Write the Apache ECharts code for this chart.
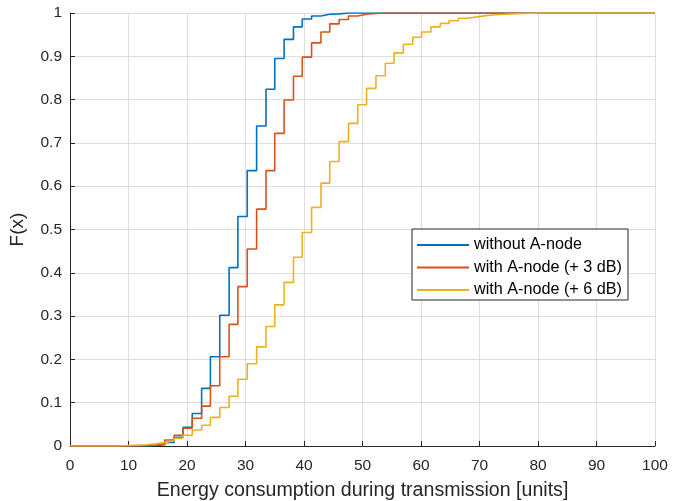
<!DOCTYPE html>
<html>
<head>
<meta charset="utf-8">
<script src="https://cdn.jsdelivr.net/npm/echarts@6/dist/echarts.min.js"></script>
<style>
html, body { margin: 0; padding: 0; background: #ffffff; }
#chart { width: 681px; height: 501px; }
</style>
</head>
<body>
<div id="chart"></div>
<script>
// Common step positions (energy values where the empirical CDFs jump)
const stepX = [8.4, 9.9, 11.5, 13.1, 14.6, 16.2, 17.8, 19.3, 20.9, 22.5, 24.0, 25.6, 27.2, 28.7, 30.3, 31.9,
  33.5, 35.0, 36.6, 38.2, 39.7, 41.3, 42.9, 44.4, 46.0, 47.6, 49.2, 50.7, 52.3, 53.9, 55.4, 57.0,
  58.6, 60.1, 61.7, 63.3, 64.8, 66.4, 68.0, 69.6, 71.1, 72.7, 74.3, 75.8, 77.4, 79.0, 80.5];

// CDF value after each jump
const withoutANode = [0, 0, 0, 0.001, 0.003, 0.008, 0.02, 0.043, 0.075, 0.133, 0.206, 0.302, 0.412, 0.530, 0.636, 0.739,
  0.824, 0.895, 0.939, 0.968, 0.986, 0.993, 0.997, 0.998, 1, 1, 1, 1, 1, 1, 1, 1,
  1, 1, 1, 1, 1, 1, 1, 1, 1, 1, 1, 1, 1, 1, 1];
const withANode3dB = [0, 0, 0.001, 0.002, 0.005, 0.014, 0.025, 0.041, 0.064, 0.092, 0.139, 0.206, 0.281, 0.368, 0.455, 0.547,
  0.636, 0.722, 0.799, 0.854, 0.898, 0.931, 0.956, 0.975, 0.985, 0.993, 0.997, 0.999, 1, 1, 1, 1,
  1, 1, 1, 1, 1, 1, 1, 1, 1, 1, 1, 1, 1, 1, 1];
const withANode6dB = [0.001, 0.002, 0.003, 0.005, 0.008, 0.012, 0.018, 0.025, 0.037, 0.048, 0.066, 0.089, 0.115, 0.154, 0.190, 0.229,
  0.276, 0.326, 0.378, 0.436, 0.493, 0.551, 0.607, 0.657, 0.703, 0.745, 0.788, 0.826, 0.855, 0.884, 0.908, 0.928,
  0.944, 0.956, 0.968, 0.976, 0.982, 0.988, 0.991, 0.994, 0.996, 0.997, 0.998, 0.999, 0.9995, 1, 1];

const seriesNames = ['without A-node', 'with A-node (+ 3 dB)', 'with A-node (+ 6 dB)'];
const seriesColors = ['#0072BD', '#D95319', '#EDB120'];
const xRange = [0, 100];
const yRange = [0, 1];

function cdfData(values) {
  const pts = [[xRange[0], 0]];
  stepX.forEach((x, i) => pts.push([x, values[i]]));
  pts.push([xRange[1], values[values.length - 1]]);
  return pts;
}

const FONT = "'Liberation Sans', Arial, Helvetica, sans-serif";
const AXIS_COLOR = '#262626';
const GRID_COLOR = '#dedede';

const chart = echarts.init(document.getElementById('chart'), null, { renderer: 'canvas' });
const allValues = [withoutANode, withANode3dB, withANode6dB];

chart.setOption({
  animation: false,
  backgroundColor: '#ffffff',
  textStyle: { fontFamily: FONT },
  grid: { left: 70, right: 26, top: 13, bottom: 55, containLabel: false, outerBoundsMode: 'none' },
  legend: {
    orient: 'vertical',
    left: 412,
    top: 229,
    padding: [8, 6, 2, 5],
    icon: 'rect',
    itemWidth: 52,
    itemHeight: 2,
    itemGap: 6.5,
    backgroundColor: '#ffffff',
    borderColor: AXIS_COLOR,
    borderWidth: 1,
    borderRadius: 0,
    selectedMode: false,
    textStyle: { fontFamily: FONT, fontSize: 16.2, color: '#000000' },
    data: seriesNames
  },
  xAxis: {
    type: 'value',
    min: xRange[0],
    max: xRange[1],
    interval: 10,
    name: 'Energy consumption during transmission [units]',
    nameLocation: 'middle',
    nameGap: 34.5,
    nameTextStyle: { fontFamily: FONT, fontSize: 19.6, color: AXIS_COLOR },
    axisLine: { show: true, onZero: false, lineStyle: { color: AXIS_COLOR, width: 1 } },
    axisTick: { show: true, inside: true, length: 5, lineStyle: { color: AXIS_COLOR } },
    axisLabel: { fontFamily: FONT, fontSize: 15.5, color: AXIS_COLOR, margin: 12 },
    splitLine: { show: true, lineStyle: { color: GRID_COLOR, width: 1 } }
  },
  yAxis: {
    type: 'value',
    min: yRange[0],
    max: yRange[1],
    interval: 0.1,
    name: 'F(x)',
    nameLocation: 'middle',
    nameGap: 43,
    nameTextStyle: { fontFamily: FONT, fontSize: 19, color: AXIS_COLOR },
    axisLine: { show: true, onZero: false, lineStyle: { color: AXIS_COLOR, width: 1 } },
    axisTick: { show: true, inside: true, length: 5, lineStyle: { color: AXIS_COLOR } },
    axisLabel: { fontFamily: FONT, fontSize: 15.5, color: AXIS_COLOR, margin: 8 },
    splitLine: { show: true, lineStyle: { color: GRID_COLOR, width: 1 } }
  },
  series: seriesNames.map((name, i) => ({
    name: name,
    type: 'line',
    step: 'end',
    symbol: 'none',
    silent: true,
    color: seriesColors[i],
    lineStyle: { color: seriesColors[i], width: 1.6 },
    data: cdfData(allValues[i])
  }))
});
</script>
</body>
</html>
